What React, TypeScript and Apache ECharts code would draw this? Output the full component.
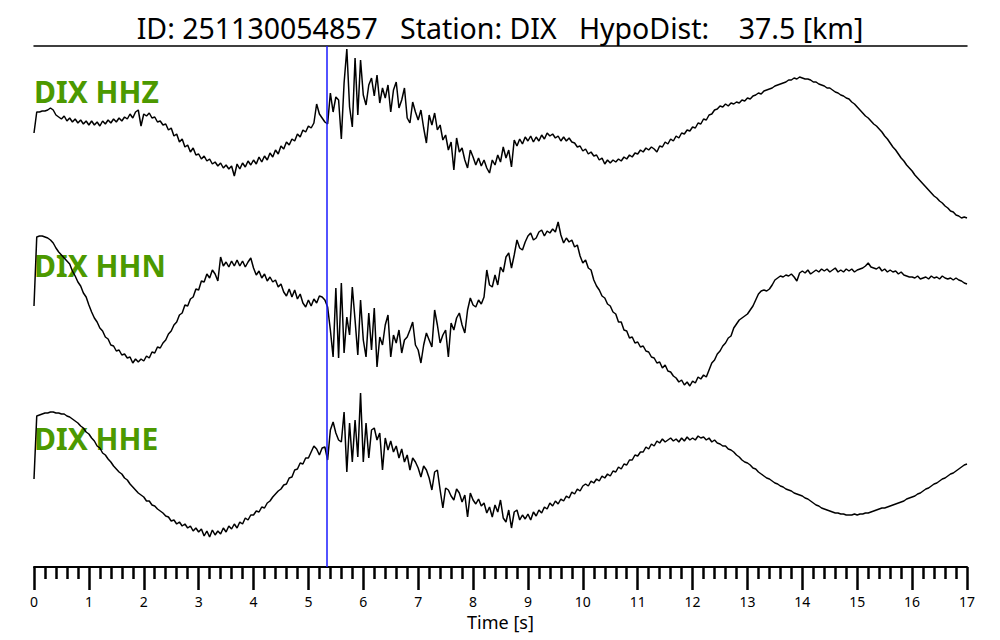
import React, { useEffect, useRef } from "react";
import * as echarts from "echarts";

// Sampling step of the traces (seconds)
const T_STEP = 0.05;

// Time axis ticks
const TIME_MIN = 0;
const TIME_MAX = 17;
const P_PICK = 5.34; // blue pick line (s)

const TITLE = "ID: 251130054857   Station: DIX   HypoDist:    37.5 [km]";
const LABELS = ["DIX HHZ", "DIX HHN", "DIX HHE"];

// Amplitudes (arbitrary counts) sampled every 0.05 s from 0 to 17 s
const HHZ = [
  1, 22, 22, 23, 23, 24, 26, 24, 19, 17, 15, 18, 13, 16, 12, 15, 11, 14, 10, 13,
  9, 13, 9, 12, 8, 13, 10, 14, 11, 15, 12, 16, 13, 17, 15, 20, 16, 22, 24, 8,
  20, 18, 21, 16, 17, 12, 13, 9, 10, 4, 6, -2, 0, -8, -5, -13, -11, -18, -14, -21,
  -20, -25, -22, -27, -25, -30, -28, -32, -29, -34, -31, -35, -32, -42, -30, -35, -29, -33, -27, -31,
  -26, -30, -23, -28, -22, -26, -19, -23, -16, -20, -12, -15, -8, -11, -5, -7, 0, -3, 4, 2,
  8, 6, 11, 30, 20, 16, 12, 10, 41, 22, 37, 34, -5, 51, 85, 27, 7, 76, 19, 74,
  39, 29, 49, 56, 38, 59, 31, 46, 36, 49, 22, 44, 52, 26, 34, 46, 16, 11, 32, 22,
  14, 24, 6, -9, 19, 9, 21, 4, 9, -6, -1, -16, -8, -36, -4, -18, -14, -26, -34, -16,
  -23, -31, -24, -32, -26, -34, -39, -26, -31, -21, -28, -13, -24, -16, -33, -6, -12, -5, -10, -3,
  -7, -2, -8, -3, -7, -1, -5, 1, -2, 0, -4, -2, -7, -3, -7, -4, -8, -9, -13, -12,
  -17, -15, -20, -18, -22, -21, -26, -24, -30, -26, -29, -26, -28, -25, -27, -23, -25, -21, -23, -19,
  -20, -16, -18, -14, -16, -13, -15, -18, -12, -13, -8, -10, -5, -7, -2, -4, 1, 0, 4, 3,
  7, 6, 11, 10, 15, 14, 19, 20, 24, 25, 28, 27, 30, 28, 31, 30, 32, 31, 34, 33,
  36, 35, 38, 39, 41, 40, 43, 44, 45, 46, 48, 49, 50, 51, 52, 54, 54, 56, 55, 57,
  56, 55, 55, 54, 52, 52, 50, 49, 48, 46, 46, 44, 42, 41, 39, 38, 36, 35, 32, 30,
  27, 24, 21, 18, 16, 13, 10, 8, 5, 2, -2, -5, -9, -13, -16, -20, -24, -27, -31, -34,
  -37, -41, -44, -47, -50, -53, -56, -59, -62, -64, -67, -69, -72, -74, -77, -78, -81, -82, -84, -83, -84,
];

const HHN = [
  -1, 68, 69, 69, 68, 67, 65, 62, 57, 53, 50, 47, 44, 41, 34, 29, 23, 19, 12, 8,
  0, -7, -13, -17, -23, -26, -32, -34, -40, -41, -46, -45, -50, -49, -53, -52, -58, -54, -57, -54,
  -56, -51, -53, -47, -48, -42, -43, -38, -35, -29, -26, -20, -17, -10, -8, 0, -1, 6, 8, 16,
  15, 24, 23, 31, 27, 35, 31, 24, 48, 39, 43, 38, 44, 39, 45, 39, 44, 38, 43, 47,
  37, 30, 34, 27, 31, 24, 28, 23, 25, 18, 21, 13, 9, 16, 8, 15, 6, 11, 2, -2,
  5, -1, 6, 2, 9, 8, 5, -2, -25, -52, 17, -53, 22, -48, -12, -30, 18, -15, -50, 5,
  -35, -52, -8, -45, -3, -62, -32, -40, -20, -10, -52, -30, -38, -25, -48, -35, -32, -25, -17, -40,
  -45, -58, -40, -28, -35, -42, -5, -20, -38, -30, -25, -52, -18, -25, -13, -8, -20, -28, -5, 7,
  0, -2, 5, 1, 8, 35, 20, 18, 30, 20, 38, 33, 48, 52, 37, 50, 65, 57, 55, 63,
  69, 72, 65, 67, 73, 75, 69, 74, 72, 76, 73, 83, 70, 62, 67, 63, 65, 58, 60, 49,
  42, 45, 37, 35, 25, 19, 15, 9, 7, 1, -1, -7, -9, -17, -17, -25, -26, -33, -32, -38,
  -37, -42, -41, -46, -47, -52, -53, -58, -57, -63, -60, -66, -67, -71, -73, -77, -75, -80, -77, -81,
  -76, -78, -72, -74, -70, -72, -65, -58, -55, -49, -46, -41, -38, -33, -31, -23, -19, -15, -13, -11,
  -9, -5, -1, 5, 11, 14, 15, 14, 16, 20, 25, 27, 29, 28, 30, 29, 31, 28, 24, 32,
  34, 32, 35, 31, 33, 35, 33, 36, 34, 36, 33, 35, 37, 33, 35, 33, 36, 34, 36, 33,
  35, 36, 37, 39, 42, 38, 37, 36, 38, 34, 36, 33, 35, 33, 34, 31, 33, 30, 29, 28,
  28, 27, 29, 26, 27, 28, 26, 29, 27, 28, 26, 29, 27, 26, 27, 25, 27, 25, 24, 22, 21,
];

const HHE = [
  -12, 51, 52, 53, 54, 54, 55, 55, 54, 54, 53, 53, 51, 50, 48, 46, 44, 41, 39, 35,
  33, 29, 26, 21, 19, 14, 12, 8, 5, 1, -2, -5, -7, -11, -13, -17, -20, -23, -26, -28,
  -30, -34, -34, -38, -39, -42, -44, -46, -49, -50, -54, -53, -57, -55, -59, -57, -61, -59, -64, -61,
  -65, -62, -69, -64, -70, -63, -68, -64, -67, -61, -65, -59, -62, -57, -61, -55, -57, -51, -53, -48,
  -48, -44, -45, -40, -41, -36, -34, -30, -27, -24, -22, -18, -17, -11, -10, -3, -2, 4, 3, 9,
  9, 15, 21, 18, 12, 19, 20, 7, 37, 45, 34, 27, 25, 55, -5, 44, 5, 47, 10, 74,
  5, 44, 9, 37, 39, 27, 34, -3, 29, 17, 26, 15, 21, 9, 18, 5, 12, -3, 9, 5,
  -1, -10, 1, -3, -11, -23, -5, -3, -23, -41, -21, -23, -29, -33, -22, -26, -35, -28, -50, -26,
  -33, -37, -32, -39, -36, -46, -40, -50, -38, -45, -33, -51, -55, -43, -61, -45, -43, -53, -48, -52,
  -47, -53, -45, -49, -43, -46, -40, -42, -36, -39, -34, -37, -32, -34, -29, -31, -25, -27, -22, -24,
  -19, -17, -19, -14, -16, -12, -14, -9, -11, -7, -9, -4, -5, 0, -2, 3, 2, 7, 7, 12,
  11, 15, 15, 20, 18, 23, 21, 26, 24, 28, 25, 27, 29, 26, 28, 25, 29, 26, 30, 27,
  29, 27, 31, 29, 30, 27, 29, 25, 27, 24, 23, 21, 21, 18, 17, 15, 12, 10, 7, 5,
  4, 2, -1, -2, -5, -7, -9, -11, -12, -14, -16, -17, -19, -20, -22, -23, -24, -26, -27, -28,
  -29, -31, -32, -34, -36, -38, -39, -41, -42, -43, -44, -45, -46, -46, -47, -47, -48, -48, -48, -47,
  -48, -47, -47, -46, -46, -45, -44, -43, -42, -41, -41, -40, -39, -38, -37, -36, -35, -34, -32, -31,
  -30, -29, -27, -26, -24, -22, -21, -19, -17, -16, -14, -12, -11, -9, -7, -6, -4, -2, 0, 2, 3,
];

const TRACES = [HHZ, HHN, HHE];

const FONT = "Noto Sans";
const GREEN = "#4c9900";

export default function App() {
  const ref = useRef<HTMLDivElement>(null);

  useEffect(() => {
    if (!ref.current) return;
    const chart = echarts.init(ref.current, null, { renderer: "svg" });

    const L = 34;
    const R = 33;
    const traceGrids = [
      { left: L, right: R, top: 46, height: 176 },
      { left: L, right: R, top: 217, height: 176 },
      { left: L, right: R, top: 379, height: 176 },
    ];
    const labelY = [91, 265, 438];

    const toPairs = (arr: number[]) =>
      arr.map((v, i) => [Math.round(i * T_STEP * 100) / 100, v]);

    const hiddenX = (gi: number) => ({
      type: "value",
      gridIndex: gi,
      min: TIME_MIN,
      max: TIME_MAX,
      show: false,
    });

    const option: any = {
      animation: false,
      backgroundColor: "#ffffff",
      grid: [
        ...traceGrids,
        { left: L, right: R, top: 46, bottom: 73 },
      ],
      xAxis: [
        hiddenX(0),
        hiddenX(1),
        hiddenX(2),
        {
          type: "value",
          gridIndex: 3,
          min: TIME_MIN,
          max: TIME_MAX,
          interval: 1,
          position: "bottom",
          name: "Time [s]",
          nameLocation: "middle",
          nameGap: 44,
          nameTextStyle: { fontFamily: FONT, fontSize: 18, color: "#000" },
          axisLine: { show: true, lineStyle: { color: "#000", width: 2 } },
          axisTick: { show: true, length: 23, lineStyle: { color: "#000", width: 2.5 } },
          minorTick: {
            show: true,
            splitNumber: 5,
            length: 12,
            lineStyle: { color: "#000", width: 2.5 },
          },
          axisLabel: {
            show: true,
            margin: 27,
            fontFamily: FONT,
            fontSize: 14,
            color: "#000",
          },
          splitLine: { show: false },
          minorSplitLine: { show: false },
        },
        {
          type: "value",
          gridIndex: 3,
          min: TIME_MIN,
          max: TIME_MAX,
          position: "top",
          axisLine: { show: true, lineStyle: { color: "#000", width: 1.5 } },
          axisTick: { show: false },
          axisLabel: { show: false },
          splitLine: { show: false },
        },
      ],
      yAxis: [
        { type: "value", gridIndex: 0, min: -88, max: 88, show: false },
        { type: "value", gridIndex: 1, min: -88, max: 88, show: false },
        { type: "value", gridIndex: 2, min: -88, max: 88, show: false },
        { type: "value", gridIndex: 3, min: 0, max: 1, show: false },
      ],
      series: [
        ...TRACES.map((arr, i) => ({
          type: "line",
          name: LABELS[i],
          xAxisIndex: i,
          yAxisIndex: i,
          data: toPairs(arr),
          showSymbol: false,
          symbol: "none",
          silent: true,
          z: 3,
          lineStyle: { color: "#000", width: 1.5 },
        })),
        {
          type: "line",
          xAxisIndex: 3,
          yAxisIndex: 3,
          data: [],
          silent: true,
          z: 4,
          markLine: {
            silent: true,
            symbol: "none",
            label: { show: false },
            lineStyle: { color: "#1a1aff", width: 1.5, type: "solid" },
            data: [{ xAxis: P_PICK }],
          },
        },
      ],
      graphic: [
        {
          type: "text",
          x: 500,
          y: 28,
          z: 0,
          style: {
            text: TITLE,
            fill: "#000",
            font: `28.5px "${FONT}"`,
            align: "center",
            verticalAlign: "middle",
          },
        },
        ...LABELS.map((t, i) => ({
          type: "text",
          x: L,
          y: labelY[i],
          z: 0,
          style: {
            text: t,
            fill: GREEN,
            font: `bold 30px "${FONT}"`,
            align: "left",
            verticalAlign: "middle",
          },
        })),
      ],
    };

    chart.setOption(option);
    return () => chart.dispose();
  }, []);

  return (
    <div
      ref={ref}
      style={{ position: "fixed", left: 0, top: 0, width: 1000, height: 640, background: "#fff" }}
    />
  );
}
